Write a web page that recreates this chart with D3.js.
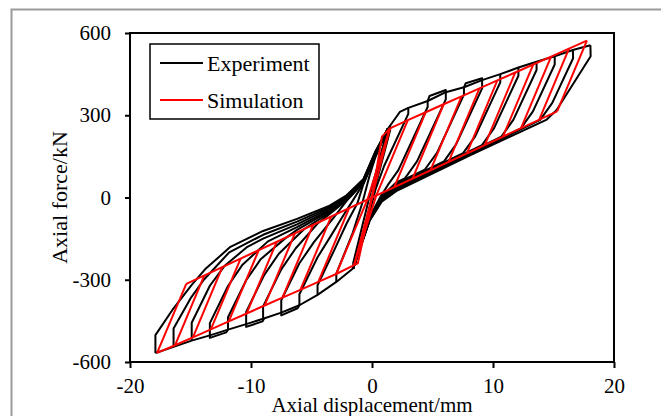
<!DOCTYPE html>
<html>
<head>
<meta charset="utf-8">
<script src="https://cdn.jsdelivr.net/npm/d3@7"></script>
<style>
  body { margin: 0; background: #fff; }
  svg { display: block; }
</style>
</head>
<body>
<script>
// axis ticks
const xTicks = [-20, -10, 0, 10, 20];
const yTicks = [-600, -300, 0, 300, 600];

// Simulation (red) - envelopes, pinch line and unloading branches
const simEnvT = [[0, 0], [0.82, 222], [1.48, 252], [2.96, 282], [4.44, 311], [5.92, 340], [7.40, 369], [8.88, 398],
  [10.36, 427], [11.84, 456], [13.32, 485], [14.80, 514], [16.28, 543], [17.76, 572]];
const simEnvC = [[0, 0], [-1.17, -240], [-1.48, -247], [-2.96, -279], [-4.44, -308], [-5.92, -337], [-7.40, -365],
  [-8.88, -394], [-10.36, -423], [-11.84, -452], [-13.32, -481], [-14.80, -510], [-16.28, -539], [-17.76, -567]];
const simPinch = [[-15.35, -315], [15.30, 314]];
const simUnloadT = [
  [[1.48, 252], [-1.48, -247]],
  [[2.96, 282], [0.35, 7], [-1.48, -247]],
  [[4.44, 311], [1.84, 38]],
  [[5.92, 340], [3.34, 68]],
  [[7.40, 369], [4.83, 99]],
  [[8.88, 398], [6.33, 130]],
  [[10.36, 427], [7.83, 160]],
  [[11.84, 456], [9.32, 191]],
  [[13.32, 485], [10.82, 222]],
  [[14.80, 514], [12.31, 252]],
  [[16.28, 543], [13.81, 283]],
  [[17.76, 572], [15.30, 314]]
];
const simUnloadC = [
  [[-2.96, -279], [-0.38, -8], [1.48, 252]],
  [[-4.44, -308], [-1.88, -38]],
  [[-5.92, -337], [-3.37, -69]],
  [[-7.40, -365], [-4.87, -100]],
  [[-8.88, -394], [-6.37, -131]],
  [[-10.36, -423], [-7.87, -161]],
  [[-11.84, -452], [-9.36, -192]],
  [[-13.32, -481], [-10.86, -223]],
  [[-14.80, -510], [-12.36, -253]],
  [[-16.28, -539], [-13.86, -284]],
  [[-17.76, -567], [-15.35, -315]]
];

// Experiment (black)
const expEnvT = [[0, 0], [0.7, 150], [1.3, 250], [2.3, 312], [3.0, 327], [4.6, 352], [6.1, 384], [7.6, 402], [9.1, 428],
  [10.6, 450], [12.1, 474], [13.6, 495], [15.1, 515], [16.6, 538], [18.05, 555]];
const expEnvC = [[0, 0], [-0.8, -150], [-1.55, -258], [-2.95, -308], [-4.5, -355], [-6.0, -393], [-7.5, -420],
  [-9.0, -442], [-10.4, -462], [-11.9, -482], [-13.4, -503], [-14.9, -522], [-16.4, -545], [-17.9, -567]];
// small repeat-cycle flags sitting on the envelopes
const expFlags = [
  [[4.6, 352], [4.75, 370], [6.1, 392], [6.1, 384]],
  [[7.6, 402], [7.75, 417], [9.1, 435], [9.1, 428]],
  [[-6.0, -393], [-6.15, -404], [-7.5, -430], [-7.5, -420]],
  [[-8.9, -440], [-9.05, -452], [-10.4, -472], [-10.4, -462]],
  [[-11.9, -482], [-12.05, -492], [-13.4, -512], [-13.4, -503]]
];
const expUnloadT = [
  [[1.5, 262], [1.5, 245], [-0.2, -40], [-1.55, -258]],
  [[3.0, 327], [3.0, 305], [1.0, 115], [0.3, 30], [-0.3, -70], [-1.55, -258]],
  [[4.6, 352], [4.6, 330], [2.18, 100], [1.3, 45], [0.6, -5], [-0.3, -80], [-1.55, -258]],
  [[6.1, 384], [6.1, 358], [3.72, 132], [2.72, 70], [2.0, 55], [0.8, 5], [-0.2, -75], [-1.55, -258]],
  [[7.6, 402], [7.6, 375], [5.37, 163], [4.37, 102], [2.0, 51], [0.8, -1], [-0.2, -76], [-1.55, -258]],
  [[9.1, 428], [9.1, 398], [6.95, 194], [5.95, 132], [2.0, 47], [0.8, -3], [-0.2, -77], [-1.55, -258]],
  [[10.6, 450], [10.6, 420], [8.53, 223], [7.53, 162], [2.0, 43], [0.8, -5], [-0.2, -78], [-1.55, -258]],
  [[12.1, 474], [12.1, 444], [10.09, 253], [9.09, 191], [2.0, 39], [0.8, -7], [-0.2, -80], [-1.55, -258]],
  [[13.6, 495], [13.6, 465], [11.69, 284], [10.69, 222], [2.0, 35], [0.8, -9], [-0.2, -81], [-1.55, -258]],
  [[15.1, 515], [15.1, 485], [13.3, 314], [12.3, 252], [2.0, 31], [0.8, -11], [-0.2, -82], [-1.55, -258]],
  [[16.6, 538], [16.62, 508], [14.9, 345], [13.9, 283], [2.0, 27], [0.8, -13], [-0.2, -84], [-1.55, -258]],
  [[18.05, 555], [18.07, 515], [15.26, 319], [14.4, 283], [8.1, 154], [2.0, 23], [0.8, -15], [-0.2, -85], [-1.55, -258]]
];
const expUnloadC = [
  [[-1.55, -258], [-1.55, -238], [0.0, 40], [0.7, 150], [1.3, 250]],
  [[-2.95, -308], [-2.95, -278], [-1.6, -130], [-0.8, -20], [-0.2, 80], [0.3, 150], [1.3, 250]],
  [[-4.5, -355], [-4.5, -320], [-3.1, -190], [-2.1, -95], [-1.2, -20], [-0.7, 50], [0.3, 152], [1.3, 250]],
  [[-6.0, -393], [-6.0, -353], [-4.5, -218], [-3.4, -140], [-2.3, -60], [-1.5, -5], [-0.7, 52], [0.3, 154], [1.3, 250]],
  [[-7.5, -420], [-7.5, -375], [-6.0, -240], [-4.8, -163], [-3.2, -75], [-2.1, -12], [-0.7, 54], [0.3, 156], [1.3, 250]],
  [[-9.0, -442], [-9.0, -397], [-7.5, -262], [-6.3, -185], [-4.5, -95], [-3.5, -60], [-2.1, -10], [-0.7, 56], [0.3, 158], [1.3, 250]],
  [[-10.4, -462], [-10.4, -417], [-8.9, -282], [-7.7, -205], [-5.6, -115], [-3.5, -55], [-2.1, -7], [-0.7, 58], [0.3, 160], [1.3, 250]],
  [[-11.9, -482], [-11.9, -437], [-10.4, -302], [-9.2, -225], [-7.2, -150], [-6.2, -118], [-3.5, -50], [-2.1, -4], [-0.7, 60],
    [0.3, 162], [1.3, 250]],
  [[-13.4, -503], [-13.4, -458], [-11.9, -323], [-10.7, -245], [-8.6, -160], [-6.2, -108], [-3.5, -45], [-2.1, -1], [-0.7, 62],
    [0.3, 164], [1.3, 250]],
  [[-14.9, -522], [-14.9, -457], [-13.4, -322], [-12.2, -250], [-10.3, -180], [-9.0, -150], [-6.2, -98], [-3.5, -40], [-2.1, 2],
    [-0.7, 64], [0.3, 166], [1.3, 250]],
  [[-16.4, -545], [-16.4, -478], [-15.0, -368], [-13.9, -300], [-11.8, -200], [-9.0, -136], [-6.2, -88], [-3.5, -35], [-2.1, 5],
    [-0.7, 66], [0.3, 168], [1.3, 250]],
  [[-17.9, -567], [-17.9, -502], [-16.4, -404], [-14.9, -319], [-13.8, -262], [-11.7, -180], [-9.0, -122], [-6.2, -78],
    [-3.5, -30], [-2.1, 8], [-0.7, 68], [0.3, 170], [1.3, 250]]
];

const legendItems = [
  { label: "Experiment", color: "#000" },
  { label: "Simulation", color: "#ff0000" }
];

const W = 661, H = 416;
const plot = { left: 130, right: 614, top: 33, bottom: 362 };
const font = "'Liberation Serif', 'Times New Roman', serif";

const svg = d3.select("body").append("svg")
  .attr("width", W)
  .attr("height", H);

// outer grey frame of the figure
svg.append("rect")
  .attr("x", 11.5).attr("y", 9.5)
  .attr("width", 700).attr("height", 500)
  .attr("fill", "none")
  .attr("stroke", "#9a9a9a")
  .attr("stroke-width", 2);

const x = d3.scaleLinear().domain([-20, 20]).range([plot.left, plot.right]);
const y = d3.scaleLinear().domain([-600, 600]).range([plot.bottom, plot.top]);

const line = d3.line().x(d => x(d[0])).y(d => y(d[1]));

const curves = svg.append("g")
  .attr("fill", "none")
  .attr("stroke-linejoin", "round")
  .attr("stroke-width", 2);

// experiment first, simulation drawn on top
const expLines = [expEnvT, expEnvC, ...expFlags, ...expUnloadT, ...expUnloadC];
curves.selectAll("path.exp")
  .data(expLines)
  .enter().append("path")
  .attr("class", "exp")
  .attr("stroke", "#000")
  .attr("d", line);

const simLines = [simEnvT, simEnvC, simPinch, ...simUnloadT, ...simUnloadC];
curves.selectAll("path.sim")
  .data(simLines)
  .enter().append("path")
  .attr("class", "sim")
  .attr("stroke", "#ff0000")
  .attr("d", line);

// axes
const xAxis = svg.append("g")
  .attr("transform", `translate(0,${plot.bottom})`)
  .call(d3.axisBottom(x).tickValues(xTicks).tickSize(6).tickPadding(10).tickFormat(d => String(d)));
const yAxis = svg.append("g")
  .attr("transform", `translate(${plot.left},0)`)
  .call(d3.axisLeft(y).tickValues(yTicks).tickSize(5).tickPadding(14).tickFormat(d => String(d)));

[xAxis, yAxis].forEach(g => {
  g.select(".domain").remove();
  g.selectAll("line").attr("stroke", "#000").attr("stroke-width", 2);
  g.selectAll("text").attr("font-family", font).attr("font-size", 21).attr("fill", "#000");
});

// plot frame
svg.append("rect")
  .attr("x", plot.left).attr("y", plot.top)
  .attr("width", plot.right - plot.left).attr("height", plot.bottom - plot.top)
  .attr("fill", "none")
  .attr("stroke", "#000")
  .attr("stroke-width", 2);

// axis titles
svg.append("text")
  .attr("x", (plot.left + plot.right) / 2)
  .attr("y", 412)
  .attr("text-anchor", "middle")
  .attr("font-family", font)
  .attr("font-size", 21)
  .text("Axial displacement/mm");

svg.append("text")
  .attr("transform", `translate(67,${(plot.top + plot.bottom) / 2}) rotate(-90)`)
  .attr("text-anchor", "middle")
  .attr("font-family", font)
  .attr("font-size", 22)
  .text("Axial force/kN");

// legend
const legend = svg.append("g");
legend.append("rect")
  .attr("x", 150).attr("y", 44)
  .attr("width", 169).attr("height", 75)
  .attr("fill", "#fff")
  .attr("stroke", "#000")
  .attr("stroke-width", 1.5);

const items = legend.selectAll("g.item")
  .data(legendItems)
  .enter().append("g")
  .attr("class", "item")
  .attr("transform", (d, i) => `translate(0,${63 + i * 37})`);

items.append("line")
  .attr("x1", 160).attr("x2", 203)
  .attr("stroke", d => d.color)
  .attr("stroke-width", 2);

items.append("text")
  .attr("x", 207)
  .attr("y", 7.5)
  .attr("font-family", font)
  .attr("font-size", 22)
  .text(d => d.label);
</script>
</body>
</html>
